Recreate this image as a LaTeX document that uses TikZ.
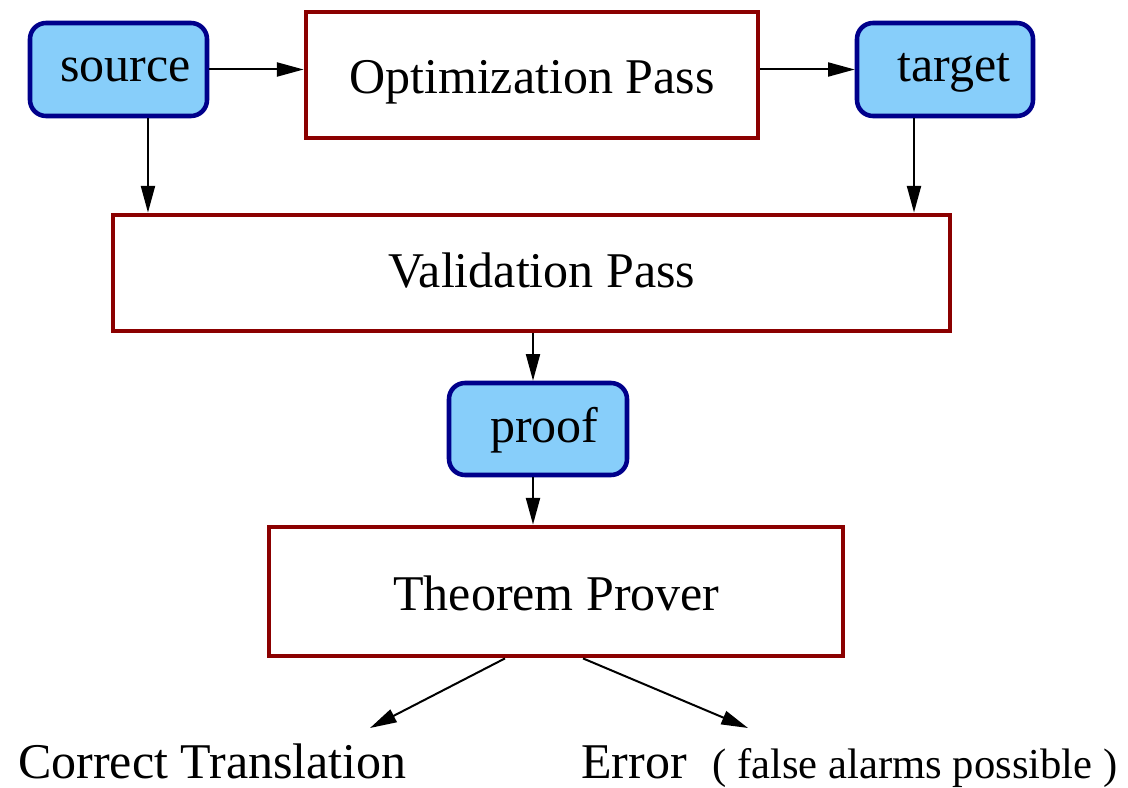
\documentclass[tikz,border=0pt]{standalone}
\usepackage{fontspec}
\setmainfont{Liberation Serif}
\usetikzlibrary{arrows.meta}
\definecolor{boxred}{RGB}{139,0,0}
\definecolor{boxnavy}{RGB}{0,0,139}
\definecolor{boxfill}{RGB}{135,206,250}
\tikzset{
  passbox/.style 2 args={draw=boxred, line width=3.6pt, fill=white, inner sep=0pt,
    minimum width=#1*0.75pt, minimum height=#2*0.75pt},
  databox/.style 2 args={draw=boxnavy, line width=3.4pt, fill=boxfill, rounded corners=12pt,
    inner sep=0pt, minimum width=#1*0.75pt, minimum height=#2*0.75pt},
  lbl/.style={inner sep=0pt, anchor=base west, font=\fontsize{37.5}{45}\selectfont},
  small/.style={inner sep=0pt, anchor=base west, font=\fontsize{32}{38}\selectfont},
  flow/.style={line width=1.5pt, -{Triangle[length=20pt,width=10.5pt]}}
}
\begin{document}
\begin{tikzpicture}[x=0.75pt,y=-0.75pt]
\useasboundingbox (0,0) rectangle (1128,788);

% boxes
\node[databox={177}{93}] (src) at (118.5,69.5) {};
\node[passbox={452}{126}] (opt) at (532,75) {};
\node[databox={176}{93}] (tgt) at (945,69.5) {};
\node[passbox={837}{116}] (val) at (531.5,273) {};
\node[databox={178}{92}] (prf) at (538,429) {};
\node[passbox={574}{129}] (thm) at (556,591.5) {};

% box labels
\node[lbl] (srcT) at (60,82) {source};
\node[lbl] (optT) at (349,94) {Optimization Pass};
\node[lbl] (tgtT) at (897,82) {target};
\node[lbl] (valT) at (388,287) {Validation Pass};
\node[lbl] (prfT) at (490,442) {proof};
\node[lbl] (thmT) at (393,610) {Theorem Prover};

% outcomes
\node[lbl] (ok) at (18,778) {Correct Translation};
\node[lbl] (err) at (581,778) {Error};
\node[small] (note) at (712,778) {( false alarms possible )};

\coordinate (okTip) at (370,728);
\coordinate (errTip) at (748,728);

% connectors
\draw[flow] (src.east) -- (src.east -| opt.west);
\draw[flow] (opt.east |- tgt.west) -- (tgt.west);
\draw[flow] ([xshift=22.1pt]src.south) -- ([xshift=22.1pt]src.south |- val.north);
\draw[flow] ([xshift=-23.25pt]tgt.south) -- ([xshift=-23.25pt]tgt.south |- val.north);
\draw[flow] ([xshift=-3.75pt]prf.north |- val.south) -- ([xshift=-3.75pt]prf.north);
\draw[flow] ([xshift=-3.75pt]prf.south) -- ([xshift=-3.75pt]prf.south |- thm.north);
\draw[flow] ([xshift=-38.25pt]thm.south) -- (okTip);
\draw[flow] ([xshift=20.25pt]thm.south) -- (errTip);
\end{tikzpicture}
\end{document}
